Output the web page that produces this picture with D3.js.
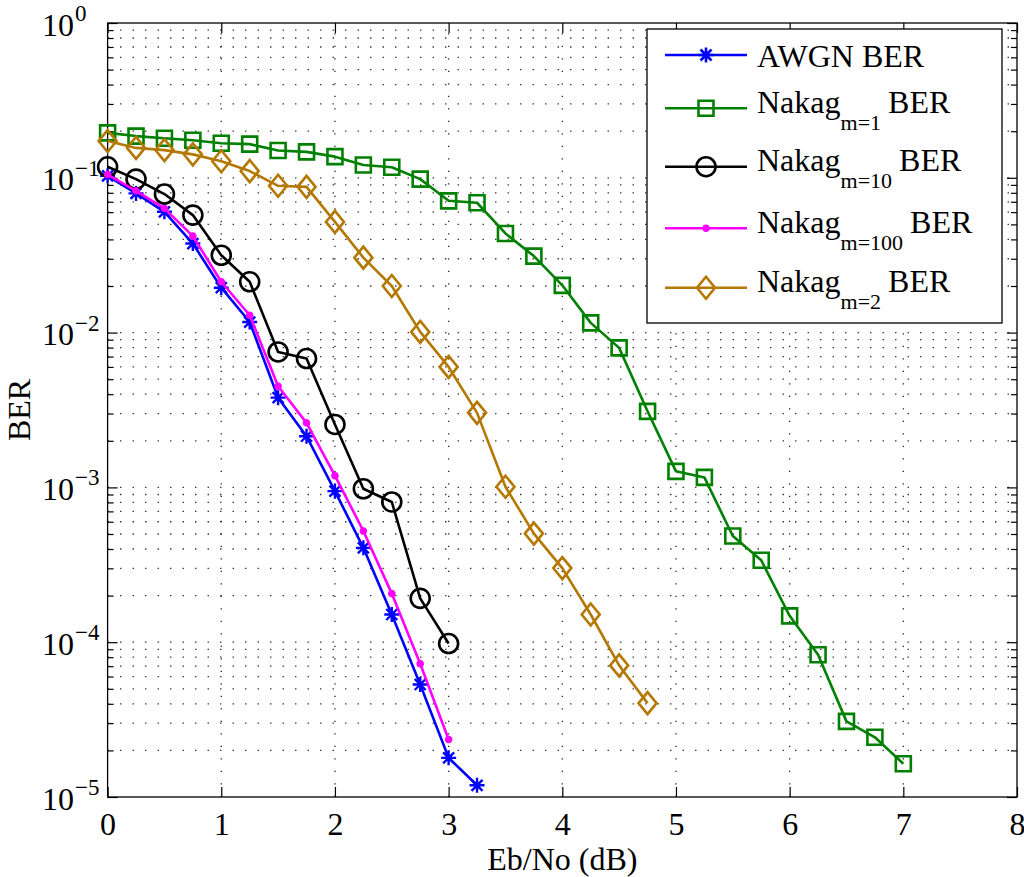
<!DOCTYPE html>
<html><head><meta charset="utf-8">
<script src="https://cdn.jsdelivr.net/npm/d3@7"></script>
<style>
body{margin:0;background:#fff}
svg{display:block}
text{font-family:"Liberation Serif","Times New Roman",Times,serif;fill:#000}
</style>
</head><body>
<svg id="chart" width="1024" height="877"></svg>
<script>
// ---- data ----
const xTickValues = [0,1,2,3,4,5,6,7,8];
const yTickExponents = [0,-1,-2,-3,-4,-5];
const xLabel = "Eb/No (dB)";
const yLabel = "BER";

const snrAWGN = [0,0.25,0.5,0.75,1,1.25,1.5,1.75,2,2.25,2.5,2.75,3,3.25];
const berAWGN = [0.103,0.0793,0.0603,0.0376,0.0195,0.0117,0.0038,0.00214,0.000946,0.000407,0.000151,5.33e-5,1.79e-5,1.19e-5];

const snrM1 = [0,0.25,0.5,0.75,1,1.25,1.5,1.75,2,2.25,2.5,2.75,3,3.25,3.5,3.75,4,4.25,4.5,4.75,5,5.25,5.5,5.75,6,6.25,6.5,6.75,7];
const berM1 = [0.195,0.186,0.180,0.175,0.167,0.165,0.150,0.147,0.137,0.121,0.117,0.098,0.071,0.069,0.0437,0.0312,0.0202,0.01156,0.00797,0.00310,0.00127,0.00116,0.000485,0.000338,0.000148,8.3e-5,3.08e-5,2.43e-5,1.64e-5];

const snrM10 = [0,0.25,0.5,0.75,1,1.25,1.5,1.75,2,2.25,2.5,2.75,3];
const berM10 = [0.1178,0.0981,0.0785,0.0574,0.0316,0.0213,0.0075,0.0068,0.00255,0.00098,0.000805,0.000192,9.8e-5];

const snrM100 = [0,0.25,0.5,0.75,1,1.25,1.5,1.75,2,2.25,2.5,2.75,3];
const berM100 = [0.105,0.0824,0.0634,0.0420,0.0213,0.01295,0.0045,0.00261,0.00119,0.000523,0.000206,7.26e-5,2.35e-5];

const snrM2 = [0,0.25,0.5,0.75,1,1.25,1.5,1.75,2,2.25,2.5,2.75,3,3.25,3.5,3.75,4,4.25,4.5,4.75];
const berM2 = [0.1727,0.156,0.151,0.1417,0.128,0.1105,0.0888,0.0874,0.0519,0.0305,0.0200,0.0101,0.0060,0.00303,0.00101,0.000503,0.000301,0.000151,7.08e-5,4.04e-5];

const seriesNames = ["AWGN BER","Nakag","Nakag","Nakag","Nakag"];
const seriesSubs  = ["","m=1","m=10","m=100","m=2"];

// ---- styling / layout ----
const series = [
  {x:snrAWGN, y:berAWGN, color:"#0000ff", marker:"asterisk", name:seriesNames[0], sub:seriesSubs[0]},
  {x:snrM1,   y:berM1,   color:"#008000", marker:"square",   name:seriesNames[1], sub:seriesSubs[1]},
  {x:snrM10,  y:berM10,  color:"#000000", marker:"circle",   name:seriesNames[2], sub:seriesSubs[2]},
  {x:snrM100, y:berM100, color:"#ff00ff", marker:"point",    name:seriesNames[3], sub:seriesSubs[3]},
  {x:snrM2,   y:berM2,   color:"#b47800", marker:"diamond",  name:seriesNames[4], sub:seriesSubs[4]}
];

const m = {l:107.6, r:1017, t:23, b:797};
const svg = d3.select("#chart");
const x = d3.scaleLinear().domain([0,8]).range([m.l,m.r]);
const y = d3.scaleLog().domain([1e-5,1]).range([m.b,m.t]);

const majorY = yTickExponents.map(e => Math.pow(10,e));
const minorY = [];
for (let e=-5; e<0; e++) for (let k=2; k<=9; k++) minorY.push(k*Math.pow(10,e));

// grid
const grid = svg.append("g").attr("stroke","#222").attr("stroke-width",1.3).attr("stroke-dasharray","1.3,11.2");
grid.selectAll("line.h").data(majorY.concat(minorY).filter(v=>v<1 && v>1e-5)).join("line")
  .attr("x1",m.l).attr("x2",m.r).attr("y1",d=>y(d)).attr("y2",d=>y(d));
grid.selectAll("line.v").data(xTickValues.filter(v=>v>0 && v<8)).join("line")
  .attr("y1",m.b).attr("y2",m.t).attr("x1",d=>x(d)).attr("x2",d=>x(d));

// axes
const fs = 32;
const ax = svg.append("g").attr("transform",`translate(0,${m.b})`)
  .call(d3.axisBottom(x).tickValues(xTickValues).tickSize(-10).tickPadding(15).tickFormat(d3.format("d")));
ax.attr("font-family",null).attr("font-size",null);
ax.selectAll("text").style("font-size",fs+"px");
svg.append("g").attr("transform",`translate(0,${m.t})`)
  .call(d3.axisTop(x).tickValues(xTickValues).tickSize(-10).tickFormat(""));
svg.append("g").attr("transform",`translate(${m.l},0)`)
  .call(d3.axisLeft(y).tickValues(majorY).tickSize(-10).tickFormat(""));
svg.append("g").attr("transform",`translate(${m.l},0)`)
  .call(d3.axisLeft(y).tickValues(minorY).tickSize(-6).tickFormat(""));
svg.append("g").attr("transform",`translate(${m.r},0)`)
  .call(d3.axisRight(y).tickValues(majorY).tickSize(-10).tickFormat(""));
svg.append("g").attr("transform",`translate(${m.r},0)`)
  .call(d3.axisRight(y).tickValues(minorY).tickSize(-6).tickFormat(""));
svg.selectAll(".domain").remove();
svg.selectAll(".tick line").attr("stroke","#000").attr("stroke-width",1.2);
svg.append("rect").attr("x",m.l).attr("y",m.t).attr("width",m.r-m.l).attr("height",m.b-m.t)
  .attr("fill","none").attr("stroke","#000").attr("stroke-width",1.3);

// y tick labels with superscripts
const yl = svg.append("g");
yTickExponents.forEach(e => {
  const yy = y(Math.pow(10,e));
  yl.append("text").attr("x",74).attr("y",yy+12.5).attr("text-anchor","end")
    .style("font-size",fs+"px").text("10");
  yl.append("text").attr("x",75).attr("y",yy-2).attr("text-anchor","start")
    .style("font-size","23px").text(e===0 ? "0" : "\u2212"+Math.abs(e));
});

// axis labels
svg.append("text").attr("x",(m.l+m.r)/2).attr("y",870).attr("text-anchor","middle")
  .style("font-size",fs+"px").text(xLabel);
svg.append("text").attr("transform",`translate(30,${(m.t+m.b)/2}) rotate(-90)`).attr("text-anchor","middle")
  .style("font-size",fs+"px").text(yLabel);

// marker paths
function markerPath(type){
  switch(type){
    case "square": return "M-7.5,-7.5H7.5V7.5H-7.5Z";
    case "circle": return "M-9.5,0A9.5,9.5 0 1,0 9.5,0A9.5,9.5 0 1,0 -9.5,0Z";
    case "diamond": return "M0,-11L9,0L0,11L-9,0Z";
    case "asterisk": return "M-7.5,0H7.5M0,-7.5V7.5M-5.5,-5.5L5.5,5.5M-5.5,5.5L5.5,-5.5";
    case "point": return "M-2.5,0A2.5,2.5 0 1,0 2.5,0A2.5,2.5 0 1,0 -2.5,0Z";
  }
}

const line = d3.line().x(d=>x(d[0])).y(d=>y(d[1]));
const plot = svg.append("g");
series.forEach(s => {
  const pts = s.x.map((v,i)=>[v,s.y[i]]);
  const g = plot.append("g");
  g.append("path").datum(pts).attr("d",line).attr("fill","none")
    .attr("stroke",s.color).attr("stroke-width",2.6).attr("stroke-linejoin","round");
  g.selectAll("path.mk").data(pts).join("path").attr("class","mk")
    .attr("transform",d=>`translate(${x(d[0])},${y(d[1])})`)
    .attr("d",markerPath(s.marker))
    .attr("fill", s.marker==="point" ? s.color : "none")
    .attr("stroke",s.color).attr("stroke-width", s.marker==="asterisk"?2.4:2.6);
});

// legend
const lg = svg.append("g");
lg.append("rect").attr("x",647).attr("y",29).attr("width",355).attr("height",294)
  .attr("fill","#fff").attr("stroke","#000").attr("stroke-width",1.3);
const rowY = [55,108.3,166.7,228.3,287.7];
series.forEach((s,i) => {
  const ry = rowY[i];
  lg.append("line").attr("x1",665).attr("x2",747).attr("y1",ry).attr("y2",ry)
    .attr("stroke",s.color).attr("stroke-width",2.6);
  lg.append("path").attr("transform",`translate(706,${ry})`).attr("d",markerPath(s.marker))
    .attr("fill", s.marker==="point" ? s.color : "none")
    .attr("stroke",s.color).attr("stroke-width",2.6);
  const t = lg.append("text").attr("x",757).style("font-size",fs+"px");
  if (!s.sub) {
    t.attr("y",ry+11.7).text(s.name);
  } else {
    t.attr("y",ry+4.5);
    t.append("tspan").text(s.name);
    t.append("tspan").attr("dy",17).style("font-size","22px").text(s.sub);
    t.append("tspan").attr("dy",-17).attr("dx",7).text("BER");
  }
});
</script>
</body></html>
